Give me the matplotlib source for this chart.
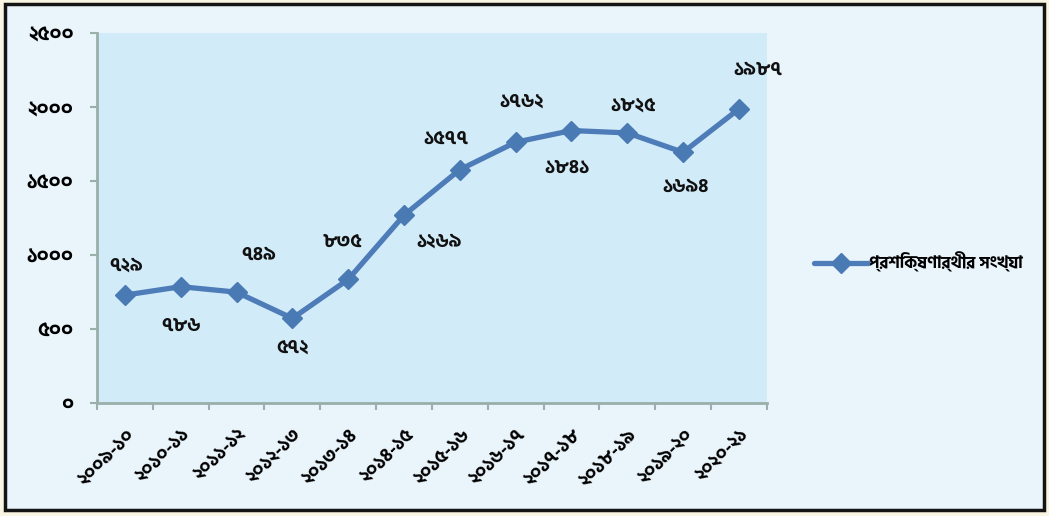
import matplotlib
matplotlib.use("Agg")
import matplotlib.pyplot as plt
from matplotlib.patches import Rectangle

plt.rcParams['font.family'] = ['Hind Siliguri', 'DejaVu Sans']
plt.rcParams['font.weight'] = 'bold'

# প্রশিক্ষণার্থীর সংখ্যা, অর্থবছর অনুযায়ী
years = ['২০০৯-১০', '২০১০-১১', '২০১১-১২', '২০১২-১৩', '২০১৩-১৪', '২০১৪-১৫',
         '২০১৫-১৬', '২০১৬-১৭', '২০১৭-১৮', '২০১৮-১৯', '২০১৯-২০', '২০২০-২১']
trainees = [729, 786, 749, 572, 835, 1269, 1577, 1762, 1841, 1825, 1694, 1987]
y_ticks = [0, 500, 1000, 1500, 2000, 2500]
series_name = 'প্রশিক্ষণার্থীর সংখ্যা'

# লেবেলের অবস্থান (পয়েন্ট থেকে সরণ, pt)
label_offsets = [(1, 21), (0, -28), (16, 27), (0, -21), (-4, 27), (25, -19),
                 (-10, 22), (4, 29), (-3, -27), (4, 20), (2, -25), (14, 28)]

bn_digits = str.maketrans('0123456789', '০১২৩৪৫৬৭৮৯')


def bn(n):
    return str(n).translate(bn_digits)


fig = plt.figure(figsize=(10.49, 5.16), dpi=100, facecolor='#f8f6e2')
fig.patches.append(Rectangle((0.005, 0.011), 0.990, 0.981, transform=fig.transFigure,
                             facecolor='#eaf4fb', edgecolor='#141414', linewidth=2.5,
                             zorder=-5))

ax = fig.add_axes([0.0925, 0.219, 0.6385, 0.717], zorder=2)
ax.set_facecolor('#d2ebf8')

x = range(len(years))
ax.plot(x, trainees, color='#4d7cb8', linewidth=3.8, marker='D', markersize=10,
        markerfacecolor='#4a7ab3', markeredgecolor='#4a7ab3', label=series_name,
        solid_capstyle='round', zorder=3)

for i, v in enumerate(trainees):
    ax.annotate(bn(v), (i, v), xytext=label_offsets[i], textcoords='offset points',
                ha='center', va='center', fontsize=14, fontweight='bold', color='#111111')

ax.set_xlim(-0.5, len(years) - 0.5)
ax.set_ylim(0, 2500)
ax.set_yticks(y_ticks)
ax.set_yticklabels([bn(t) for t in y_ticks], fontsize=14.5, fontweight='bold')

# বিভাগের মাঝে টিক, বিভাগের কেন্দ্রে লেবেল
ax.set_xticks([i - 0.5 for i in range(len(years) + 1)])
ax.set_xticklabels([])
ax.set_xticks(list(x), minor=True)
ax.set_xticklabels(years, minor=True, rotation=45, ha='right', va='top',
                   rotation_mode='anchor', fontsize=13.5, fontweight='bold')
ax.tick_params(axis='x', which='minor', length=0, pad=16)
ax.tick_params(axis='x', which='major', length=5, width=1.5, color='#9aaeaa')
ax.tick_params(axis='y', length=5, width=1.5, color='#9aaeaa', pad=12)

for side in ['top', 'right']:
    ax.spines[side].set_visible(False)
for side in ['left', 'bottom']:
    ax.spines[side].set_color('#9aaeaa')
    ax.spines[side].set_linewidth(2)

fig.legend(loc='center left', bbox_to_anchor=(0.762, 0.492), frameon=False,
           prop={'size': 12, 'weight': 'bold'}, handlelength=3.2, handletextpad=0.1)

fig.savefig('out.png', dpi=100, facecolor=fig.get_facecolor())
